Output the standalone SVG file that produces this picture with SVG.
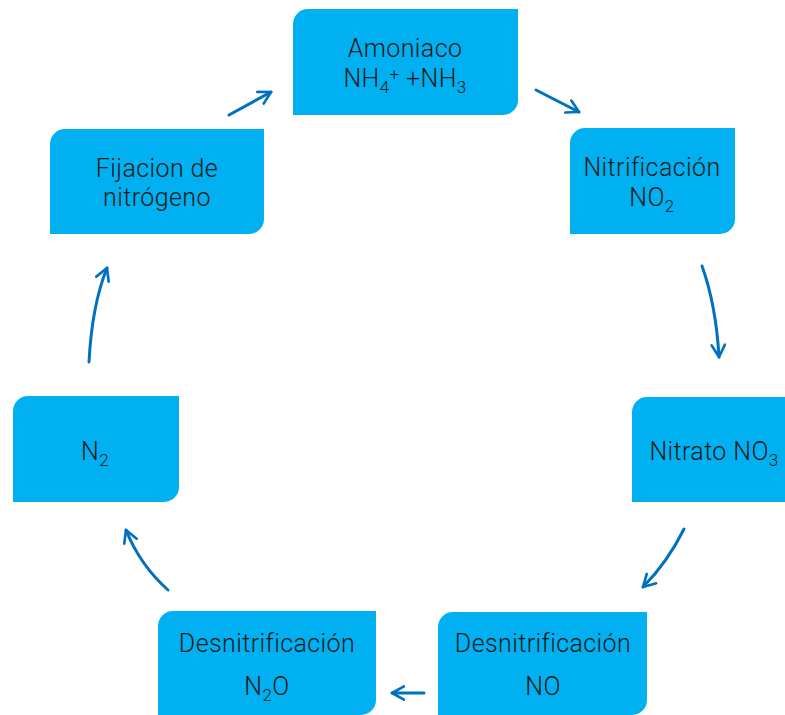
<svg xmlns="http://www.w3.org/2000/svg" width="785" height="715" viewBox="0 0 785 715">
<defs>
<style>
.box{fill:#00B0F0;}
.t{font-family:Roboto,"Liberation Sans",sans-serif;font-weight:300;font-size:25px;letter-spacing:0.4px;fill:#1a1a1a;text-anchor:middle;}
.s{font-size:17px;}
.c{fill:none;stroke:#0070C0;stroke-width:3;stroke-linecap:round;marker-end:url(#ah);}
</style>
<marker id="ah" viewBox="0 0 12 12" refX="10" refY="6" markerWidth="16" markerHeight="16" markerUnits="userSpaceOnUse" orient="auto">
<path d="M1,1 L10,6 L1,11" fill="none" stroke="#0070C0" stroke-width="2" stroke-linecap="round" stroke-linejoin="round"/>
</marker>
</defs>
<rect width="785" height="715" fill="#ffffff"/>
<g id="connectors">
<path class="c" d="M229,115 L271,92"/>
<path class="c" d="M536,90 L579,112"/>
<path class="c" d="M702,266 Q716,305 719,357"/>
<path class="c" d="M684,529 Q667,563 643,587"/>
<path class="c" d="M424,693 L392,693"/>
<path class="c" d="M168,590 Q140,565 126,530"/>
<path class="c" d="M89,362 Q92,305 107,268"/>
</g>
<g id="amoniaco">
<path class="box" d="M293,24 A15,15 0 0 1 308,9 H518 V100 A15,15 0 0 1 503,115 H293 Z"/>
<text class="t" x="405" y="57">Amoniaco</text>
<text class="t" x="405" y="87">NH<tspan class="s" dy="6">4</tspan><tspan class="s" dy="-13">+</tspan><tspan dy="7"> +NH</tspan><tspan class="s" dy="6">3</tspan></text>
</g>
<g id="nitrificacion">
<path class="box" d="M570,143 A15,15 0 0 1 585,128 H735 V219 A15,15 0 0 1 720,234 H570 Z"/>
<text class="t" x="652" y="176">Nitrificación</text>
<text class="t" x="652" y="206">NO<tspan class="s" dy="6">2</tspan></text>
</g>
<g id="nitrato">
<path class="box" d="M632,412 A15,15 0 0 1 647,397 H785 V502 H632 Z"/>
<text class="t" x="714" y="460">Nitrato NO<tspan class="s" dy="6">3</tspan></text>
</g>
<g id="desnitrificacion-no">
<path class="box" d="M438,627 A15,15 0 0 1 453,612 H647 V700 A15,15 0 0 1 632,715 H438 Z"/>
<text class="t" x="543" y="652">Desnitrificación</text>
<text class="t" x="543" y="695">NO</text>
</g>
<g id="desnitrificacion-n2o">
<path class="box" d="M158,626 A15,15 0 0 1 173,611 H376 V700 A15,15 0 0 1 361,715 H158 Z"/>
<text class="t" x="267" y="652">Desnitrificación</text>
<text class="t" x="267" y="695">N<tspan class="s" dy="6">2</tspan><tspan dy="-6">O</tspan></text>
</g>
<g id="n2">
<path class="box" d="M13,411 A15,15 0 0 1 28,396 H179 V487 A15,15 0 0 1 164,502 H13 Z"/>
<text class="t" x="95" y="460">N<tspan class="s" dy="6">2</tspan></text>
</g>
<g id="fijacion">
<path class="box" d="M50,144 A15,15 0 0 1 65,129 H264 V219 A15,15 0 0 1 249,234 H50 Z"/>
<text class="t" x="157" y="177">Fijacion de</text>
<text class="t" x="157" y="206">nitrógeno</text>
</g>
</svg>
